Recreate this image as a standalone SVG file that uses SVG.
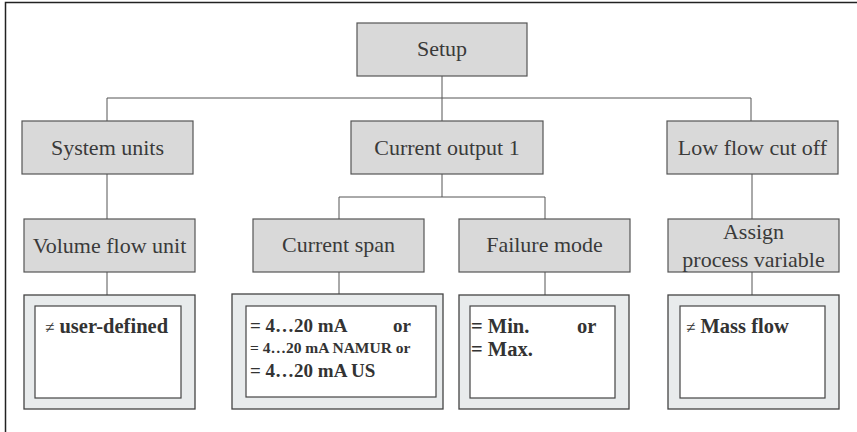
<svg xmlns="http://www.w3.org/2000/svg" width="857" height="432" viewBox="0 0 857 432">
<style>
.box{fill:#d9d9d9;stroke:#555;stroke-width:1.2}
.outer{fill:#e8ebec;stroke:#444;stroke-width:1.3}
.inner{fill:#fff;stroke:#444;stroke-width:1.2}
.lbl{font-family:"Liberation Serif","DejaVu Serif",serif;font-size:22px;fill:#3a3a3a;text-anchor:middle}
.val{font-family:"Liberation Serif","DejaVu Serif",serif;font-size:19px;font-weight:bold;fill:#333}
.big{font-size:20.5px}
.ne{font-weight:normal;font-size:17px}
.con{fill:none;stroke:#555;stroke-width:1}
</style>
<rect width="857" height="432" fill="#fff"/>
<path d="M5.5,432 V2.5 H857" fill="none" stroke="#222" stroke-width="1.5"/>
<g id="connectors" class="con">
<path d="M442,76 V121"/>
<path d="M107,121 V98 H751 V121"/>
<path d="M107,174 V219"/>
<path d="M442,174 V197"/>
<path d="M339,219 V197 H545 V219"/>
<path d="M752,174 V219"/>
<path d="M107,272 V295"/>
<path d="M339,272 V294"/>
<path d="M545,272 V295"/>
<path d="M752,272 V295"/>
</g>
<g id="setup"><rect class="box" x="357" y="23" width="170" height="53"/><text class="lbl" x="442" y="56">Setup</text></g>
<g id="system-units"><rect class="box" x="22" y="121" width="171" height="53"/><text class="lbl" x="107.5" y="155">System units</text></g>
<g id="current-output-1"><rect class="box" x="351" y="121" width="192" height="53"/><text class="lbl" x="447" y="155">Current output 1</text></g>
<g id="low-flow-cut-off"><rect class="box" x="667" y="121" width="171" height="53"/><text class="lbl" x="752.5" y="155">Low flow cut off</text></g>
<g id="volume-flow-unit"><rect class="box" x="24" y="219" width="171" height="53"/><text class="lbl" x="109.5" y="253">Volume flow unit</text></g>
<g id="current-span"><rect class="box" x="253" y="219" width="171" height="53"/><text class="lbl" x="338.5" y="252">Current span</text></g>
<g id="failure-mode"><rect class="box" x="459" y="219" width="171" height="53"/><text class="lbl" x="544.5" y="252">Failure mode</text></g>
<g id="assign-process-variable"><rect class="box" x="668" y="219" width="171" height="53"/><text class="lbl" x="753.5" y="239">Assign</text><text class="lbl" x="753.5" y="267">process variable</text></g>
<g id="val-volume"><rect class="outer" x="24" y="295" width="171" height="114"/><rect class="inner" x="35" y="306" width="146" height="92"/><text class="val big" x="45" y="333"><tspan class="ne">≠</tspan> user-defined</text></g>
<g id="val-current-span"><rect class="outer" x="232" y="294" width="211" height="115"/><rect class="inner" x="246" y="306" width="190" height="91"/>
<text class="val" x="250" y="332">= 4…20 mA</text><text class="val" x="393" y="332">or</text>
<text class="val" x="250" y="353" style="font-size:15.5px">= 4…20 mA NAMUR or</text>
<text class="val" x="250" y="377">= 4…20 mA US</text></g>
<g id="val-failure"><rect class="outer" x="459" y="295" width="170" height="114"/><rect class="inner" x="470" y="306" width="145" height="92"/>
<text class="val big" x="471" y="333">= Min.</text><text class="val big" x="577" y="333">or</text>
<text class="val big" x="471" y="356">= Max.</text></g>
<g id="val-mass"><rect class="outer" x="668" y="295" width="171" height="114"/><rect class="inner" x="680" y="306" width="145" height="92"/><text class="val big" x="686" y="333"><tspan class="ne">≠</tspan> Mass flow</text></g>
</svg>
